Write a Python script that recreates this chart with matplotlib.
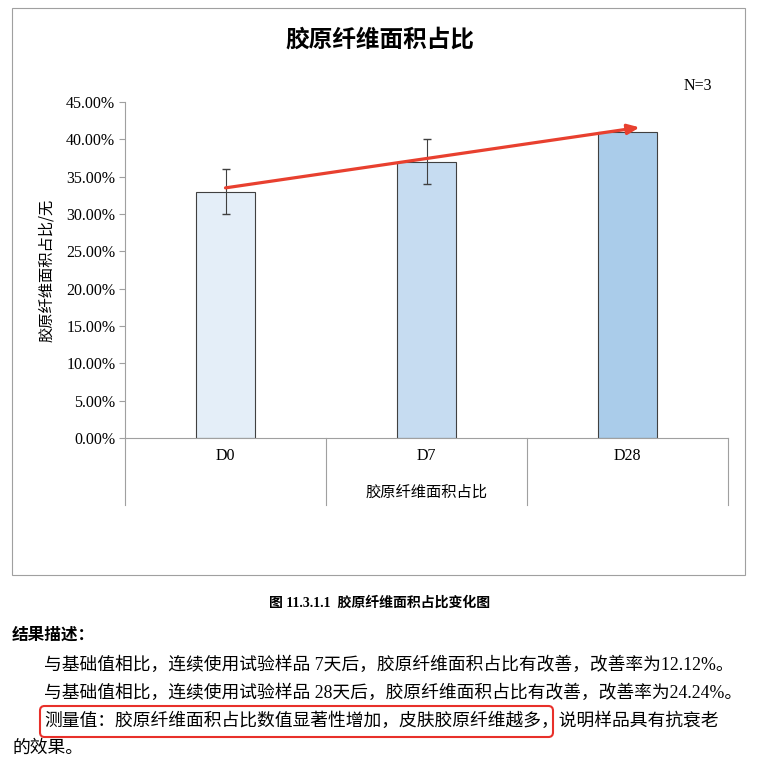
import matplotlib
matplotlib.use("Agg")
import matplotlib.pyplot as plt
from matplotlib.patches import Rectangle, FancyBboxPatch
import matplotlib.transforms as mt

plt.rcParams['font.family'] = ['Liberation Serif', 'Noto Sans CJK SC']

cats = ['D0', 'D7', 'D28']
vals = [0.33, 0.37, 0.41]
errs = [0.03, 0.03, 0.0]
colors = ['#E4EEF8', '#C6DCF1', '#AACCEA']
yticks = [0, 0.05, 0.10, 0.15, 0.20, 0.25, 0.30, 0.35, 0.40, 0.45]

W, H = 759, 784
fig = plt.figure(figsize=(W/100, H/100), dpi=100)
def fx(x): return x/W
def fy(y): return 1 - y/H

fig.patches.append(Rectangle((fx(12), fy(575)), fx(745)-fx(12), fy(8)-fy(575),
                             transform=fig.transFigure, fill=False, ec='#A0A0A0', lw=0.8))
fig.text(fx(380), fy(40), '胶原纤维面积占比', ha='center', va='center', fontsize=17,
         family=['Noto Sans CJK SC'], fontweight='bold')
fig.text(fx(698), fy(86), 'N=3', ha='center', va='center', fontsize=11.5)

ax = fig.add_axes([fx(125), fy(438), fx(728)-fx(125), fy(102)-fy(438)])
x = range(len(cats))
ax.bar(x, vals, width=0.29, color=colors, edgecolor='#404040', lw=0.8, zorder=2)
ax.errorbar([0, 1], vals[:2], yerr=errs[:2], fmt='none', ecolor='#404040',
            elinewidth=0.8, capsize=3, zorder=3)
ax.set_xlim(-0.5, 2.5)
ax.set_ylim(0, 0.45)
ax.set_yticks(yticks)
ax.set_yticklabels([f'{v*100:.2f}%' for v in yticks], fontsize=11.5)
ax.set_xticks([])
for s in ['top', 'right']:
    ax.spines[s].set_visible(False)
for s in ['left', 'bottom']:
    ax.spines[s].set_color('#A0A0A0')
ax.tick_params(axis='y', length=4, color='#A0A0A0', pad=3)
ax.set_ylabel('胶原纤维面积占比/无', family=['Noto Sans CJK SC'], fontsize=11, labelpad=8)
tr = mt.blended_transform_factory(ax.transData, ax.transAxes)
for d in [-0.5, 0.5, 1.5, 2.5]:
    ax.plot([d, d], [0, -0.2], transform=tr, clip_on=False, color='#A0A0A0', lw=0.8)
for i, c in enumerate(cats):
    ax.text(i, -0.055, c, transform=tr, ha='center', va='center', fontsize=11.5)
ax.text(1, -0.16, '胶原纤维面积占比', transform=tr, ha='center', va='center', fontsize=11,
        family=['Noto Sans CJK SC'])
ax.annotate('', xy=(2.06, 0.416), xytext=(0, 0.335),
            arrowprops=dict(arrowstyle='-|>,head_length=0.7,head_width=0.3', color='#E8402F',
                            lw=2.3, shrinkA=0, shrinkB=0), zorder=5)

fig.text(fx(380), fy(603), '图 11.3.1.1  胶原纤维面积占比变化图', ha='center', va='center',
         fontsize=10, fontweight='bold')
fig.text(fx(12), fy(636), '结果描述：', ha='left', va='center', fontsize=12, fontweight='bold')
lines = [
    (44, 665, '与基础值相比，连续使用试验样品 7天后，胶原纤维面积占比有改善，改善率为12.12%。'),
    (44, 693, '与基础值相比，连续使用试验样品 28天后，胶原纤维面积占比有改善，改善率为24.24%。'),
    (44, 721, '测量值：胶原纤维面积占比数值显著性增加，皮肤胶原纤维越多，说明样品具有抗衰老'),
    (12, 748, '的效果。'),
]
for xx, yy, t in lines:
    fig.text(fx(xx), fy(yy), t, ha='left', va='center', fontsize=12.8)
fig.patches.append(FancyBboxPatch((fx(40), fy(737)), fx(553)-fx(40), fy(706)-fy(737),
                                  boxstyle='round,pad=0,rounding_size=0.006',
                                  transform=fig.transFigure, fill=False, ec='#E8302A', lw=1.5))
fig.savefig('out.png', dpi=100)
